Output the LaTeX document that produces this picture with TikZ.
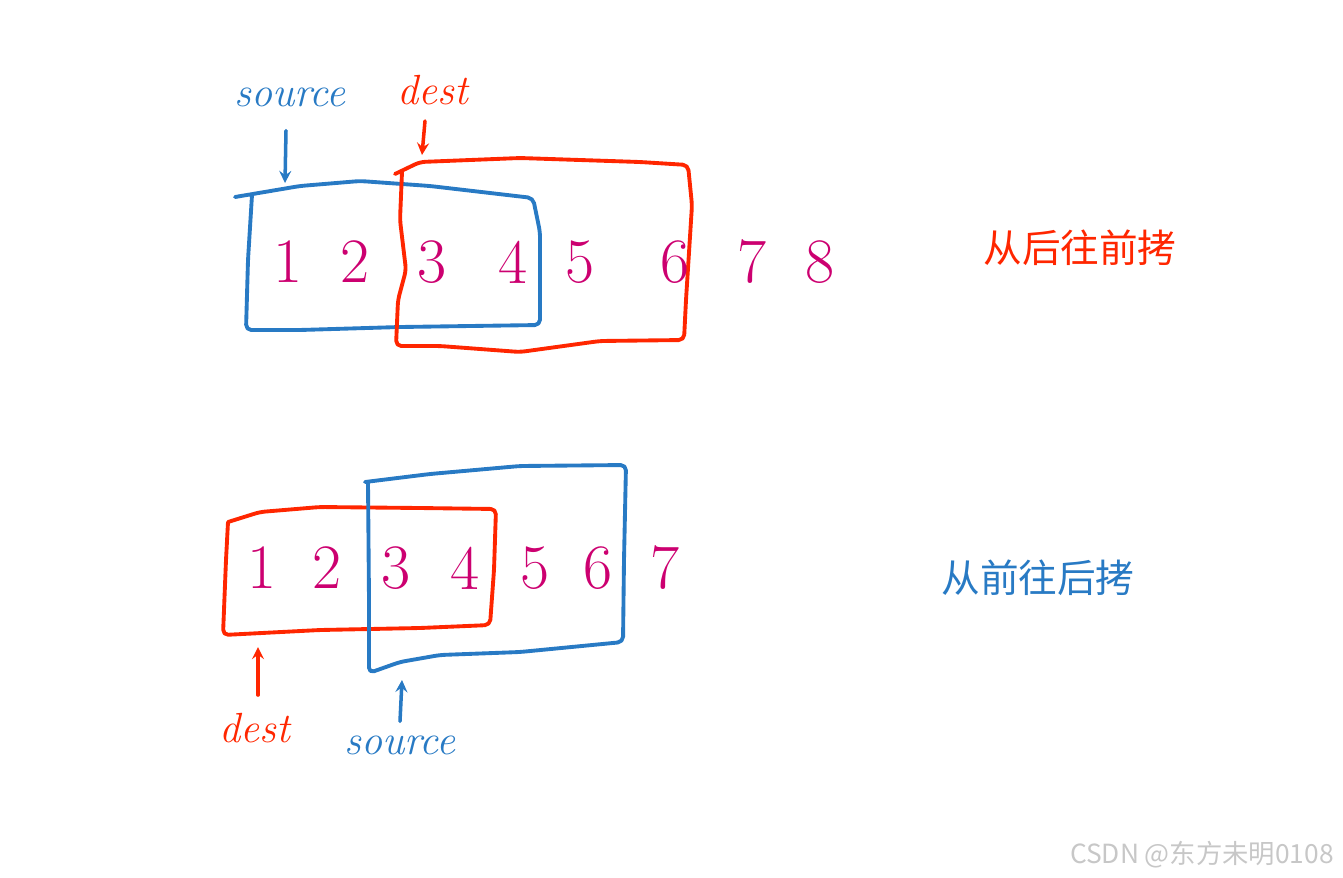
\documentclass[tikz,border=0pt]{standalone}
\usepackage{fontspec}
\usepackage{tikz}
\usetikzlibrary{arrows,positioning,calc}
\newfontfamily\cjk{Noto Sans CJK SC}
\definecolor{penblue}{RGB}{40,122,196}
\definecolor{penred}{RGB}{255,38,0}
\definecolor{penpink}{RGB}{204,0,112}

\tikzset{
  num/.style={text=penpink, font=\fontsize{36}{36}\selectfont, inner sep=0pt},
  lbl/.style={font=\fontsize{24}{24}\selectfont\itshape, inner sep=1pt},
  pointer/.style={line width=2pt, -stealth, line cap=round},
  pen/.style={line width=2.2pt, rounded corners=3pt, line cap=round, line join=round}
}

\begin{document}
\begin{tikzpicture}[x=0.02cm, y=-0.02cm]
    \useasboundingbox (0,0) rectangle (1343,877);
    
    % Top: copy from back to front
    \draw[pen, penblue] (235,197) -- (300,186) -- (360,181) -- (430,186) -- (533,198) -- (540,232) -- (540,325)
        -- (400,327) -- (300,330) -- (246,330) -- (248,260) -- (252,195);
    \draw[pen, penred] (395,174) -- (420,162) -- (520,158) -- (640,162) -- (688,165) -- (692,205) -- (686,300) -- (684,340)
        -- (600,341) -- (520,352) -- (440,346) -- (396,346) -- (398,300) -- (406,270) -- (400,220) -- (402,172);
    
    \foreach \n/\x in {1/288, 2/355, 3/432, 4/513, 5/580, 6/675, 7/752, 8/820}
        \node[num] (t\n) at (\x,262) {\n};
    
    \node[lbl, text=penblue] (tsrc) at (290,97) {source};
    \node[lbl, text=penred] (tdst) at (433,90) {dest};
    \coordinate (tsrcpt) at (285,183);
    \coordinate (tdstpt) at (422,155);
    \draw[pointer, penblue] (tsrc.south) ++(-4,22) coordinate (tsa) -- (tsrcpt);
    \draw[pointer, penred] (tdst.south) ++(-8,14) coordinate (tda) -- (tdstpt);
    
    \node[text=penred, font=\cjk\fontsize{22}{22}\selectfont] (tcap) at (1080,248) {从后往前拷};
    
    % Bottom: copy from front to back
    \draw[pen, penred] (228,522) -- (260,512) -- (320,507) -- (420,508) -- (496,509) -- (494,570) -- (490,625)
        -- (420,628) -- (320,630) -- (223,635) -- (226,560) -- (228,522);
    \draw[pen, penblue] (365,482) -- (430,474) -- (520,466) -- (626,465) -- (624,560) -- (623,642)
        -- (520,652) -- (440,655) -- (400,662) -- (369,673) -- (369,600) -- (368,482);
    
    \foreach \n/\x in {1/262, 2/327, 3/396, 4/465, 5/535, 6/598, 7/665}
        \node[num] (b\n) at (\x,568) {\n};
    
    \node[lbl, text=penred] (bdst) at (255,728) {dest};
    \node[lbl, text=penblue] (bsrc) at (400,745) {source};
    \coordinate (bdstpt) at (258,647);
    \coordinate (bsrcpt) at (402,680);
    \draw[pointer, penred] (bdst.north) ++(3,-16) coordinate (bda) -- (bdstpt);
    \draw[pointer, penblue] (bsrc.north) ++(0,-12) coordinate (bsa) -- (bsrcpt);
    
    \node[text=penblue, font=\cjk\fontsize{22}{22}\selectfont] (bcap) at (1038,578) {从前往后拷};
    
    % Watermark
    \node[text=black!22, font=\cjk\fontsize{15}{15}\selectfont, anchor=east] (wm) at (1340,855) {CSDN @东方未明0108};
\end{tikzpicture}
\end{document}
